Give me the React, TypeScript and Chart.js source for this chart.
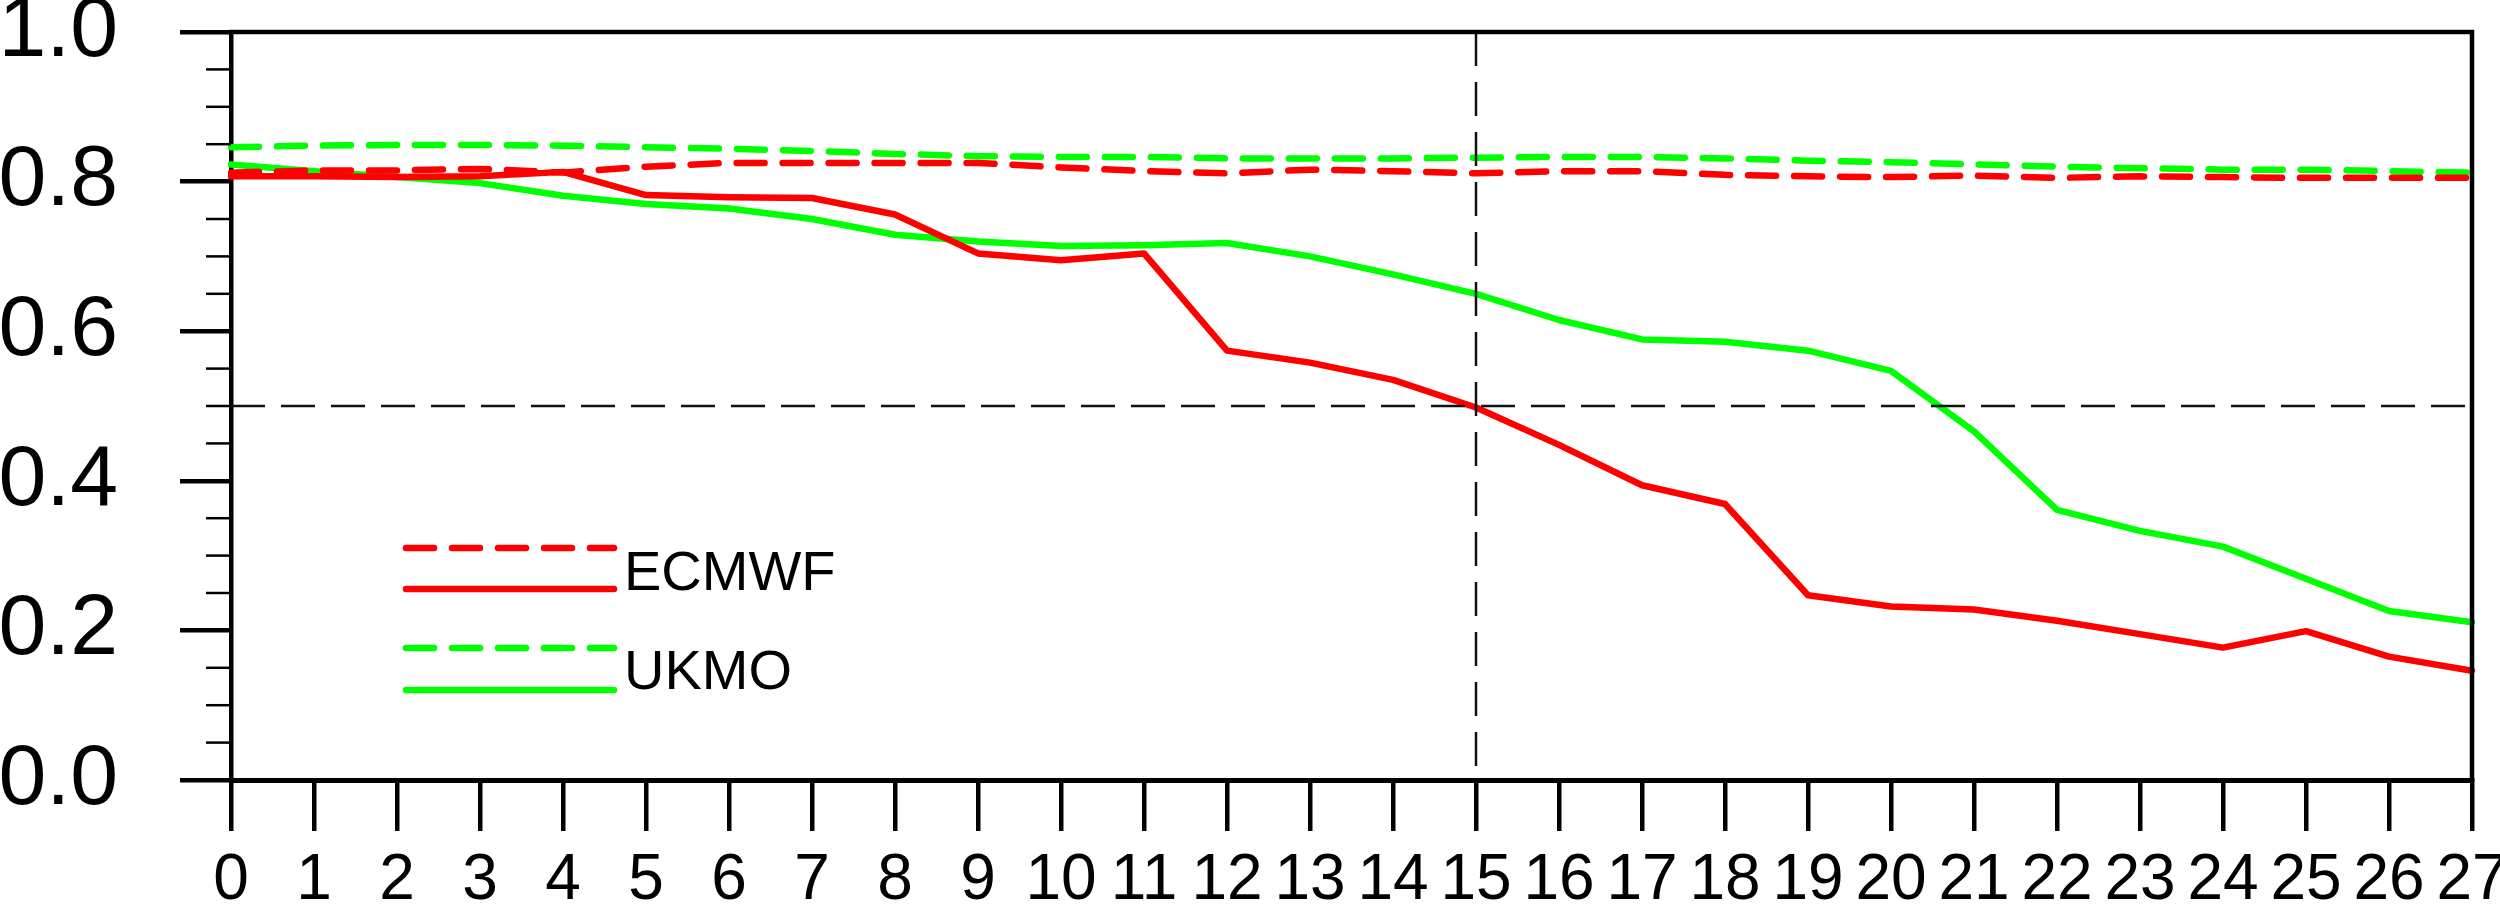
import React, { useEffect, useRef } from 'react';
import { Chart, registerables } from 'chart.js';

Chart.register(...registerables);

// ---- data ----
const days = ['0','1','2','3','4','5','6','7','8','9','10','11','12','13','14','15','16','17','18','19','20','21','22','23','24','25','26','27'];

const ecmwfDashed = [0.812, 0.815, 0.815, 0.817, 0.812, 0.820, 0.825, 0.825, 0.825, 0.825, 0.819, 0.814, 0.811, 0.816, 0.814, 0.811, 0.814, 0.814, 0.809, 0.807, 0.806, 0.808, 0.805, 0.807, 0.806, 0.805, 0.805, 0.805];
const ecmwfSolid = [0.807, 0.807, 0.806, 0.807, 0.813, 0.782, 0.779, 0.778, 0.756, 0.704, 0.695, 0.704, 0.574, 0.558, 0.535, 0.498, 0.448, 0.394, 0.369, 0.247, 0.232, 0.228, 0.213, 0.195, 0.177, 0.199, 0.165, 0.146];
const ukmoDashed = [0.846, 0.848, 0.849, 0.849, 0.848, 0.846, 0.844, 0.841, 0.837, 0.834, 0.833, 0.833, 0.831, 0.831, 0.831, 0.832, 0.833, 0.833, 0.831, 0.828, 0.826, 0.823, 0.820, 0.818, 0.816, 0.816, 0.814, 0.812];
const ukmoSolid = [0.823, 0.814, 0.806, 0.798, 0.781, 0.770, 0.764, 0.750, 0.729, 0.720, 0.714, 0.715, 0.718, 0.700, 0.676, 0.650, 0.615, 0.589, 0.586, 0.574, 0.547, 0.466, 0.361, 0.333, 0.312, 0.269, 0.226, 0.211];

const legendLabels = ['ECMWF', 'UKMO'];
const refValueY = 0.5;
const refDayX = 15;
const yMin = 0;
const yMax = 1;
const yMajorStep = 0.2;
const yMinorStep = 0.05;

// ---- style ----
const RED = 'rgb(255,0,0)';
const GREEN = 'rgb(0,255,0)';
const FONT = '"Liberation Sans", Arial, Helvetica, sans-serif';
const DASH = [28, 18];
const LINE_W = 6.5;

const framePlugin = {
  id: 'frame',
  afterDatasetsDraw(chart: any) {
    const { ctx, chartArea, scales } = chart;
    const x = scales.x;
    const y = scales.y;
    ctx.save();
    ctx.strokeStyle = '#111';
    ctx.lineWidth = 2.5;
    ctx.setLineDash([34, 16]);
    const py = y.getPixelForValue(refValueY);
    ctx.beginPath();
    ctx.moveTo(chartArea.left, py);
    ctx.lineTo(chartArea.right, py);
    ctx.stroke();
    const px = x.getPixelForValue(refDayX);
    ctx.beginPath();
    ctx.moveTo(px, chartArea.top);
    ctx.lineTo(px, chartArea.bottom);
    ctx.stroke();
    ctx.restore();
  },
  afterDraw(chart: any) {
    const { ctx, chartArea, scales } = chart;
    const y = scales.y;
    ctx.save();
    ctx.strokeStyle = '#000';
    ctx.lineCap = 'butt';
    // top & right frame
    ctx.lineWidth = 4.5;
    ctx.beginPath();
    ctx.moveTo(chartArea.left - 2, chartArea.top);
    ctx.lineTo(chartArea.right, chartArea.top);
    ctx.lineTo(chartArea.right, chartArea.bottom + 2);
    ctx.stroke();
    // minor ticks
    ctx.lineWidth = 2.5;
    const n = Math.round((yMax - yMin) / yMinorStep);
    const ratio = Math.round(yMajorStep / yMinorStep);
    for (let i = 0; i <= n; i++) {
      if (i % ratio === 0) continue;
      const v = yMin + i * yMinorStep;
      const p = y.getPixelForValue(v);
      ctx.beginPath();
      ctx.moveTo(chartArea.left - 25, p);
      ctx.lineTo(chartArea.left, p);
      ctx.stroke();
    }
    // legend
    const ds = chart.data.datasets;
    const lx0 = 406;
    const lx1 = 614;
    const rows = [548, 589, 648, 690];
    ctx.lineCap = 'round';
    ds.forEach((d: any, i: number) => {
      ctx.strokeStyle = d.borderColor;
      ctx.lineWidth = LINE_W;
      ctx.setLineDash(d.borderDash || []);
      ctx.beginPath();
      ctx.moveTo(lx0, rows[i]);
      ctx.lineTo(lx1, rows[i]);
      ctx.stroke();
    });
    ctx.setLineDash([]);
    ctx.fillStyle = '#000';
    ctx.font = `56px ${FONT}`;
    ctx.textBaseline = 'alphabetic';
    ctx.textAlign = 'left';
    ctx.fillText(legendLabels[0], 624, 590);
    ctx.fillText(legendLabels[1], 624, 689);
    ctx.restore();
  },
};

export default function App() {
  const ref = useRef<HTMLCanvasElement>(null);
  useEffect(() => {
    const canvas = ref.current!;
    const common = { borderWidth: LINE_W, pointRadius: 0, tension: 0, fill: false, borderCapStyle: 'round', borderJoinStyle: 'round' };
    const chart = new Chart(canvas, {
      type: 'line',
      data: {
        labels: days,
        datasets: [
          { label: 'ECMWF (dashed)', data: ecmwfDashed, borderColor: RED, borderDash: DASH, ...common },
          { label: 'ECMWF', data: ecmwfSolid, borderColor: RED, ...common },
          { label: 'UKMO (dashed)', data: ukmoDashed, borderColor: GREEN, borderDash: DASH, ...common },
          { label: 'UKMO', data: ukmoSolid, borderColor: GREEN, ...common },
        ] as any,
      },
      options: {
        responsive: false,
        animation: false,
        devicePixelRatio: 1,
        layout: { padding: { left: 0, top: 32, right: 28, bottom: 0 } },
        plugins: { legend: { display: false }, tooltip: { enabled: false } },
        elements: {
          point: { radius: 0 },
          line: { tension: 0, borderWidth: LINE_W, borderCapStyle: 'round', borderJoinStyle: 'round', fill: false },
        },
        scales: {
          x: {
            type: 'category',
            offset: false,
            grid: { display: true, drawOnChartArea: false, drawTicks: true, tickLength: 51, lineWidth: 4.5, tickWidth: 4.5, tickColor: '#000', offset: false },
            border: { display: true, color: '#000', width: 5 },
            ticks: { color: '#000', font: { size: 64, family: FONT }, padding: 12, maxRotation: 0, minRotation: 0, autoSkip: false },
            afterFit: (s: any) => { s.height = 126; s.paddingLeft = 0; s.paddingRight = 0; },
          },
          y: {
            type: 'linear',
            min: yMin,
            max: yMax,
            grid: { display: true, drawOnChartArea: false, drawTicks: true, tickLength: 51, lineWidth: 4.5, tickWidth: 4.5, tickColor: '#000' },
            border: { display: true, color: '#000', width: 4.5 },
            ticks: { stepSize: yMajorStep, color: '#000', font: { size: 86, family: FONT }, padding: 62, callback: (v: any) => Number(v).toFixed(1) },
            afterFit: (s: any) => { s.width = 231; s.paddingTop = 0; s.paddingBottom = 0; },
          },
        },
      } as any,
      plugins: [framePlugin],
    });
    return () => chart.destroy();
  }, []);
  return (
    <div style={{ position: 'absolute', left: 0, top: 0, width: 2500, height: 906, background: '#fff' }}>
      <canvas ref={ref} width={2500} height={906} style={{ display: 'block', width: 2500, height: 906 }} />
    </div>
  );
}
